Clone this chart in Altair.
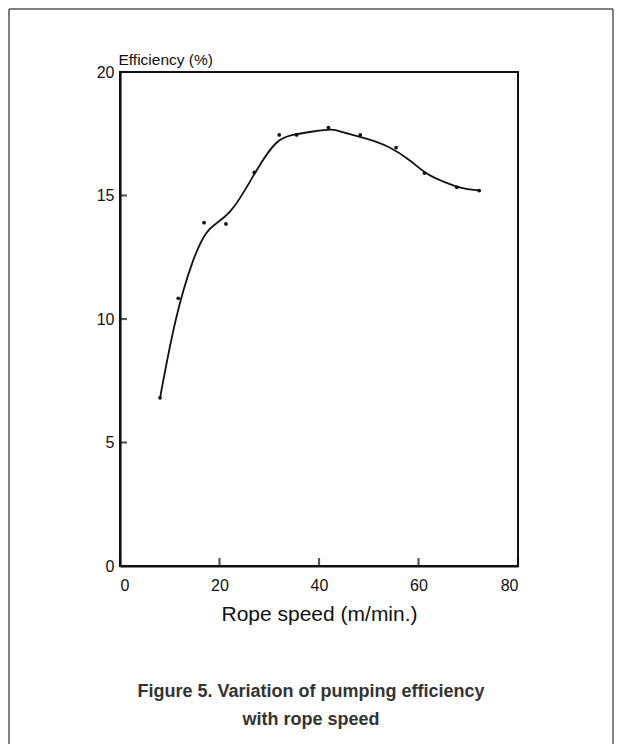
import altair as alt
import pandas as pd

# Measured data points
pt_speed = [8.05, 11.7, 16.9, 21.3, 27.0, 32.0, 35.5, 41.9, 48.3, 55.5, 61.2, 67.7, 72.2]
pt_eff = [6.81, 10.84, 13.9, 13.85, 15.94, 17.45, 17.45, 17.75, 17.45, 16.94, 15.91, 15.33, 15.2]

# Fitted curve
cv_speed = [8.05, 11.1, 14.7, 17.4, 19.4, 22.1, 24.8, 28.2, 31.5, 34.2, 38.9, 42.9, 44.3, 49.6, 54.3, 58.3, 61.7, 65.0, 68.4, 72.2]
cv_eff = [6.81, 10.1, 12.5, 13.6, 13.87, 14.28, 15.09, 16.3, 17.25, 17.45, 17.6, 17.7, 17.58, 17.31, 16.98, 16.44, 15.83, 15.56, 15.29, 15.2]

x_ticks = [0, 20, 40, 60, 80]
y_ticks = [0, 5, 10, 15, 20]

caption1 = "Figure 5. Variation of pumping efficiency"
caption2 = "with rope speed"

W, H = 398, 494
FONT = "Liberation Sans"

pts = pd.DataFrame({"speed": pt_speed, "eff": pt_eff})
curve = pd.DataFrame({"speed": cv_speed, "eff": cv_eff})
xt = pd.DataFrame({"v": x_ticks})
yt = pd.DataFrame({"v": y_ticks})

xs = alt.Scale(domain=[0, 80], nice=False)
ys = alt.Scale(domain=[0, 20], nice=False)

xaxis = alt.Axis(values=x_ticks, ticks=False, grid=False, labelFontSize=16, labelPadding=11,
                 labelFont=FONT, labelColor="#111", domainColor="#111", domainWidth=2.2,
                 title="Rope speed (m/min.)", titleFont=FONT, titleFontSize=21, titleFontWeight="normal",
                 titleColor="#111", titlePadding=10)
yaxis = alt.Axis(values=y_ticks, ticks=False, grid=False, labelFontSize=16, labelPadding=6,
                 labelFont=FONT, labelColor="#111", domainColor="#111", domainWidth=2.2,
                 title="Efficiency (%)", titleFont=FONT, titleFontSize=15.5, titleFontWeight="normal",
                 titleColor="#111", titleAngle=0, titleAlign="left", titleBaseline="alphabetic",
                 titleX=-2, titleY=-8)

line = alt.Chart(curve).mark_line(color="#111", strokeWidth=1.8, interpolate="basis").encode(
    x=alt.X("speed:Q", scale=xs, axis=xaxis),
    y=alt.Y("eff:Q", scale=ys, axis=yaxis),
)
dots = alt.Chart(pts).mark_circle(color="#111", size=14, opacity=1).encode(
    x=alt.X("speed:Q", scale=xs),
    y=alt.Y("eff:Q", scale=ys),
)
xtick = alt.Chart(xt).mark_tick(color="#111", thickness=2.2, size=8, orient="vertical", yOffset=-4).encode(
    x=alt.X("v:Q", scale=xs), y=alt.value(H)
)
ytick = alt.Chart(yt).mark_tick(color="#111", thickness=2.2, size=7, orient="horizontal", xOffset=3.5).encode(
    y=alt.Y("v:Q", scale=ys), x=alt.value(0)
)

cap1 = alt.Chart(pd.DataFrame({"t": [caption1]})).mark_text(
    font=FONT, fontSize=18, fontWeight="bold", color="#333", align="center", baseline="alphabetic"
).encode(text="t:N", x=alt.value(191), y=alt.value(625))
cap2 = alt.Chart(pd.DataFrame({"t": [caption2]})).mark_text(
    font=FONT, fontSize=18, fontWeight="bold", color="#333", align="center", baseline="alphabetic"
).encode(text="t:N", x=alt.value(191), y=alt.value(653))

# outer frame (top, left, right)
fr_top = alt.Chart(pd.DataFrame({"a": [0]})).mark_rule(color="#555", strokeWidth=1.5).encode(
    x=alt.value(-111), x2=alt.value(493), y=alt.value(-63))
fr_left = alt.Chart(pd.DataFrame({"a": [0]})).mark_rule(color="#555", strokeWidth=1.5).encode(
    x=alt.value(-111), y=alt.value(-63), y2=alt.value(700))
fr_right = alt.Chart(pd.DataFrame({"a": [0]})).mark_rule(color="#555", strokeWidth=1.5).encode(
    x=alt.value(493), y=alt.value(-63), y2=alt.value(700))

chart = alt.layer(line, dots, xtick, ytick, cap1, cap2, fr_top, fr_left, fr_right).properties(
    width=W, height=H,
    background="white",
    autosize=alt.AutoSizeParams(type="none"),
    padding={"left": 112, "top": 64, "right": 96, "bottom": 178},
).configure_view(stroke="#111", strokeWidth=2)

chart.save("out.html", embed_options={"renderer": "svg", "actions": False})
